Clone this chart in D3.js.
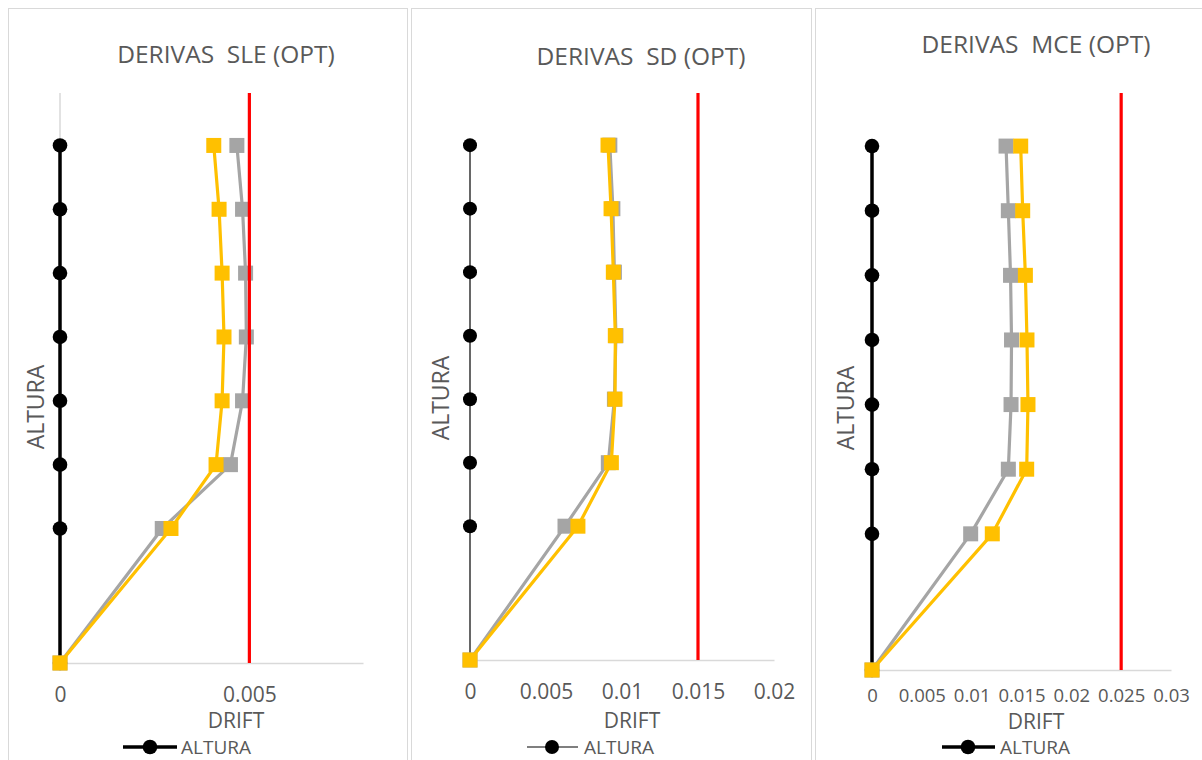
<!DOCTYPE html>
<html>
<head>
<meta charset="utf-8">
<script src="https://cdn.jsdelivr.net/npm/d3@7"></script>
<style>
  html, body { margin: 0; padding: 0; background: #ffffff; }
  svg { display: block; }
  text { font-family: "Open Sans", "Noto Sans", sans-serif; fill: #595959; white-space: pre; }
</style>
</head>
<body>
<svg id="chart" width="1202" height="760"></svg>
<script>
// ---------- DATA ----------
const heights = [0, 5.9, 8.7, 11.5, 14.3, 17.1, 19.9, 22.7];   // ALTURA (storey heights)
const heightMax = 25;

const titles = ["DERIVAS  SLE (OPT)", "DERIVAS  SD (OPT)", "DERIVAS  MCE (OPT)"];

const sleGray   = [0, 0.0027, 0.0045, 0.00482, 0.00492, 0.0049, 0.00482, 0.00467];
const sleYellow = [0, 0.00293, 0.00412, 0.00428, 0.00433, 0.00428, 0.0042, 0.00406];
const sleLimit  = 0.005;
const sleTicks  = [0, 0.005];
const sleMax    = 0.008;

const sdGray    = [0, 0.00625, 0.0091, 0.0095, 0.0096, 0.0095, 0.0094, 0.0092];
const sdYellow  = [0, 0.0071, 0.0093, 0.00954, 0.00956, 0.00943, 0.00928, 0.00908];
const sdLimit   = 0.015;
const sdTicks   = [0, 0.005, 0.01, 0.015, 0.02];
const sdMax     = 0.02;

const mceGray   = [0, 0.0099, 0.01368, 0.01395, 0.0140, 0.0139, 0.01368, 0.01345];
const mceYellow = [0, 0.01207, 0.01552, 0.01565, 0.01555, 0.01539, 0.01512, 0.01492];
const mceLimit  = 0.025;
const mceTicks  = [0, 0.005, 0.01, 0.015, 0.02, 0.025, 0.03];
const mceMax    = 0.03;

const xTitle = "DRIFT";
const yTitle = "ALTURA";
const legendLabel = "ALTURA";

// ---------- LAYOUT ----------
const panels = [
  { box: [8.5, 8.5, 399], plot: { l: 60, r: 363, t: 93, b: 663 }, title: [226, 53],
    gray: sleGray, yellow: sleYellow, limit: sleLimit, ticks: sleTicks, max: sleMax,
    blackW: 3.5, r: 7.3, valueAxis: true, tickOff: 31, tickFs: 21, drift: [236, 720], ylab: [35, 407],
    legend: { x1: 123, x2: 177, cx: 150, tx: 181, y: 747 } },
  { box: [411.5, 8.5, 400], plot: { l: 470, r: 774, t: 93, b: 660 }, title: [641, 55],
    gray: sdGray, yellow: sdYellow, limit: sdLimit, ticks: sdTicks, max: sdMax,
    blackW: 1.2, r: 7, valueAxis: false, tickOff: 31, tickFs: 21, drift: [632, 720], ylab: [440, 398],
    legend: { x1: 527, x2: 578, cx: 552, tx: 584, y: 747 } },
  { box: [815.5, 8.5, 400], plot: { l: 872, r: 1171, t: 93, b: 670 }, title: [1036, 43],
    gray: mceGray, yellow: mceYellow, limit: mceLimit, ticks: mceTicks, max: mceMax,
    blackW: 3.5, r: 7.3, valueAxis: false, tickOff: 24, tickFs: 18.5, drift: [1036, 721], ylab: [845, 408],
    legend: { x1: 942, x2: 995, cx: 968, tx: 1000, y: 747 } }
];

const C = { text: "#595959", grid: "#d9d9d9", gray: "#a5a5a5", yellow: "#ffc000", red: "#ff0000", black: "#000000" };

const svg = d3.select("#chart");
const fmt = v => v === 0 ? "0" : String(+v.toFixed(3));

panels.forEach((p, i) => {
  // panel border
  svg.append("rect")
    .attr("x", p.box[0]).attr("y", p.box[1])
    .attr("width", p.box[2]).attr("height", 900)
    .attr("fill", "#ffffff").attr("stroke", C.grid).attr("stroke-width", 1);

  const x = d3.scaleLinear().domain([0, p.max]).range([p.plot.l, p.plot.r]);
  const y = d3.scaleLinear().domain([0, heightMax]).range([p.plot.b, p.plot.t]);
  const g = svg.append("g");

  // title
  g.append("text").attr("x", p.title[0]).attr("y", p.title[1])
    .attr("text-anchor", "middle").attr("dominant-baseline", "central")
    .attr("xml:space", "preserve")
    .style("font-size", "24.5px").text(titles[i]);

  // value (vertical) axis line
  if (p.valueAxis) {
    g.append("line").attr("x1", x(0)).attr("x2", x(0))
      .attr("y1", y(heightMax)).attr("y2", y(0))
      .attr("stroke", C.grid).attr("stroke-width", 1.5);
  }

  // category (horizontal) axis
  const axis = d3.axisBottom(x).tickValues(p.ticks).tickFormat(fmt).tickSize(0).tickPadding(p.tickOff);
  const ax = g.append("g").attr("transform", `translate(0,${y(0)})`).call(axis);
  ax.select(".domain").attr("stroke", C.grid).attr("stroke-width", 1.5);
  ax.selectAll("text").attr("fill", C.text).attr("dy", "0").attr("dominant-baseline", "central")
    .style("font-size", p.tickFs + "px")
    .style("font-family", '"Open Sans", "Noto Sans", sans-serif');

  // axis titles
  g.append("text").attr("x", p.drift[0]).attr("y", p.drift[1])
    .attr("text-anchor", "middle").attr("dominant-baseline", "central")
    .style("font-size", "21px").text(xTitle);
  g.append("text")
    .attr("transform", `translate(${p.ylab[0]},${p.ylab[1]}) rotate(-90)`)
    .attr("text-anchor", "middle").attr("dominant-baseline", "central")
    .style("font-size", "23px").text(yTitle);

  // ALTURA series (drift 0 at each height)
  const blackLine = d3.line().x(() => x(0)).y(d => y(d));
  g.append("path").datum(heights).attr("d", blackLine)
    .attr("fill", "none").attr("stroke", C.black).attr("stroke-width", p.blackW);
  g.selectAll(".dot").data(heights).enter().append("circle")
    .attr("cx", x(0)).attr("cy", d => y(d)).attr("r", p.r).attr("fill", C.black);

  // gray and yellow series
  [[p.gray, C.gray], [p.yellow, C.yellow]].forEach(([vals, col]) => {
    const pts = vals.map((v, k) => [v, heights[k]]);
    const line = d3.line().x(d => x(d[0])).y(d => y(d[1]));
    g.append("path").datum(pts).attr("d", line)
      .attr("fill", "none").attr("stroke", col).attr("stroke-width", 3.2)
      .attr("stroke-linejoin", "round");
    g.selectAll(null).data(pts).enter().append("rect")
      .attr("x", d => x(d[0]) - 7.5).attr("y", d => y(d[1]) - 7.5)
      .attr("width", 15).attr("height", 15).attr("fill", col);
  });

  // limit line
  const lim = [[p.limit, 0], [p.limit, heightMax]];
  g.append("path").datum(lim)
    .attr("d", d3.line().x(d => x(d[0])).y(d => y(d[1])))
    .attr("stroke", C.red).attr("stroke-width", 3.2).attr("fill", "none");

  // legend
  const L = p.legend;
  g.append("line").attr("x1", L.x1).attr("x2", L.x2).attr("y1", L.y).attr("y2", L.y)
    .attr("stroke", C.black).attr("stroke-width", p.blackW);
  g.append("circle").attr("cx", L.cx).attr("cy", L.y).attr("r", p.r).attr("fill", C.black);
  g.append("text").attr("x", L.tx).attr("y", L.y).attr("dominant-baseline", "central")
    .style("font-size", "19px").text(legendLabel);
});
</script>
</body>
</html>
